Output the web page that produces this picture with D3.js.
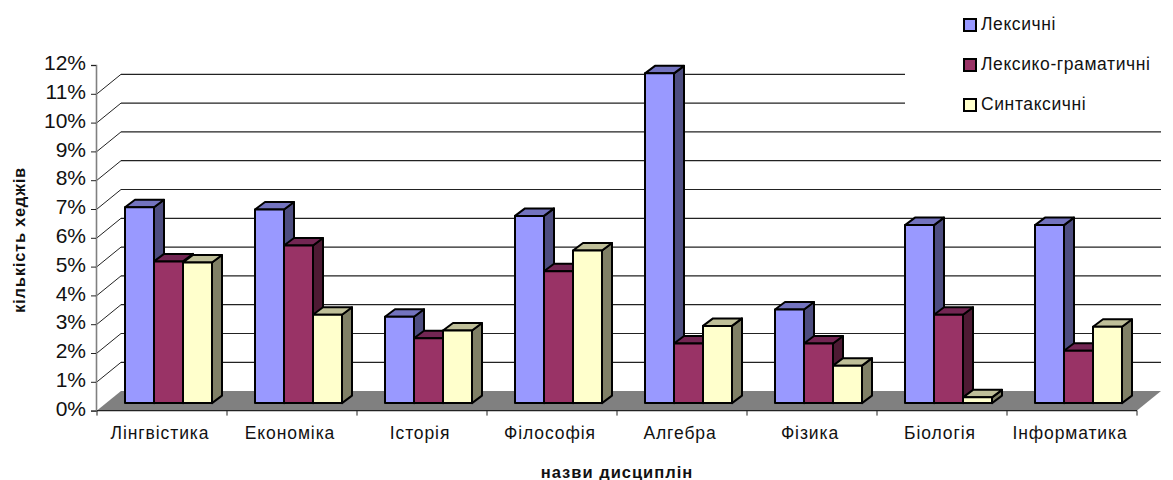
<!DOCTYPE html>
<html lang="uk">
<head>
<meta charset="utf-8">
<script src="https://cdn.jsdelivr.net/npm/d3@7"></script>
<style>
  html, body { margin: 0; padding: 0; background: #fff; }
  svg { display: block; }
  text { font-family: "Liberation Sans", Arial, sans-serif; fill: #111; }
</style>
</head>
<body>
<svg id="chart" width="1173" height="480"></svg>
<script>
// Shares of hedges by discipline, in percent
const categories = ["Лінгвістика", "Економіка", "Історія", "Філософія", "Алгебра", "Фізика", "Біологія", "Інформатика"];
const seriesNames = ["Лексичні", "Лексико-граматичні", "Синтаксичні"];
const lexical = [6.8, 6.72, 3.0, 6.5, 11.45, 3.25, 6.18, 6.18];
const lexGrammatical = [4.92, 5.47, 2.25, 4.58, 2.07, 2.07, 3.07, 1.82];
const syntactic = [4.88, 3.07, 2.52, 5.3, 2.68, 1.3, 0.2, 2.65];
const yTicks = [0, 1, 2, 3, 4, 5, 6, 7, 8, 9, 10, 11, 12];

const faceColors = ["#9999FF", "#993366", "#FFFFCC"];
const sideColors = ["#4D4D80", "#4D1A33", "#808066"];
const topColors = ["#7373BF", "#732653", "#BFBF99"];

const svg = d3.select("#chart");

// Oblique projection of the chart box
const depthX = 24, depthY = -19.5;     // wall behind the front plane
const barDepthX = 10, barDepthY = -7.5; // extrusion of each column
const barShiftY = -7.5;                 // columns stand inside the floor

const x = d3.scaleBand().domain(categories).range([97, 1137]);
const y = d3.scaleLinear().domain([0, 12]).range([410.6, 65]);
const inner = d3.scaleBand().domain(d3.range(seriesNames.length)).range([28, 115]);

const values = [lexical, lexGrammatical, syntactic];

// Floor
const floor = d3.line();
svg.append("path")
  .attr("d", floor([
    [x.range()[0], y(0)],
    [x.range()[1], y(0)],
    [x.range()[1] + depthX, y(0) + depthY],
    [x.range()[0] + depthX, y(0) + depthY]
  ]) + "Z")
  .attr("fill", "#808080");

// Back-wall gridlines with their slanted side-wall segments
const gridTicks = yTicks.filter(t => t > 0 && t < 12);
const grid = svg.append("g").attr("stroke", "#222").attr("fill", "none");
grid.selectAll("line.back").data(gridTicks).join("line")
  .attr("class", "back")
  .attr("x1", x.range()[0] + depthX)
  .attr("x2", x.range()[1] + depthX)
  .attr("y1", d => y(d) + depthY)
  .attr("y2", d => y(d) + depthY)
  .attr("stroke-width", 1.2);
grid.selectAll("line.side").data(gridTicks).join("line")
  .attr("class", "side")
  .attr("x1", x.range()[0])
  .attr("x2", x.range()[0] + depthX)
  .attr("y1", d => y(d))
  .attr("y2", d => y(d) + depthY)
  .attr("stroke-width", 1);

// Columns: side, top, then front, series by series so later ones overlap earlier sides
const bars = [];
categories.forEach((c, ci) => {
  values.forEach((vals, si) => bars.push({ c, si, v: vals[ci] }));
});
const barLayer = svg.append("g")
  .attr("stroke", "#000")
  .attr("stroke-width", 2)
  .attr("stroke-linejoin", "round");
const poly = d3.line();
bars.forEach(b => {
  const x0 = x(b.c) + inner(b.si);
  const x1 = x0 + inner.bandwidth();
  const yTop = y(b.v) + barShiftY;
  const yBase = y(0) + barShiftY;
  barLayer.append("path")
    .attr("fill", sideColors[b.si])
    .attr("d", poly([[x1, yBase], [x1, yTop], [x1 + barDepthX, yTop + barDepthY], [x1 + barDepthX, yBase + barDepthY]]) + "Z");
  barLayer.append("path")
    .attr("fill", topColors[b.si])
    .attr("d", poly([[x0, yTop], [x0 + barDepthX, yTop + barDepthY], [x1 + barDepthX, yTop + barDepthY], [x1, yTop]]) + "Z");
  barLayer.append("rect")
    .attr("fill", faceColors[b.si])
    .attr("x", x0).attr("y", yTop)
    .attr("width", inner.bandwidth()).attr("height", yBase - yTop);
});

// Value axis
const yAxis = svg.append("g")
  .attr("transform", `translate(${x.range()[0] - 1},0)`)
  .call(d3.axisLeft(y).tickValues(yTicks).tickFormat(d => d + "%").tickSize(5).tickPadding(5));
yAxis.select(".domain").attr("stroke", "#808080").attr("stroke-width", 1.6);
yAxis.selectAll(".tick line").attr("stroke", "#222");
yAxis.selectAll(".tick text")
  .attr("font-size", 21)
  .attr("font-family", "Liberation Sans")
  .attr("dy", "0.22em")
  .attr("fill", "#111");

// Category axis: ticks sit on band edges, labels at band centres
const xAxisLine = svg.append("g").attr("transform", `translate(0,${y(0)})`);
xAxisLine.append("line")
  .attr("x1", x.range()[0]).attr("x2", x.range()[1])
  .attr("stroke", "#222").attr("stroke-width", 1.2);
xAxisLine.selectAll("line.tick").data(categories.concat([null])).join("line")
  .attr("class", "tick")
  .attr("x1", (d, i) => x.range()[0] + i * x.step())
  .attr("x2", (d, i) => x.range()[0] + i * x.step())
  .attr("y1", 0).attr("y2", 5)
  .attr("stroke", "#222");
svg.append("g").selectAll("text").data(categories).join("text")
  .attr("x", d => x(d) + x.bandwidth() / 2 - 2)
  .attr("y", 439)
  .attr("text-anchor", "middle")
  .attr("font-size", 17.5)
  .attr("letter-spacing", 0.9)
  .text(d => d);

// Axis titles
svg.append("text")
  .attr("x", 617).attr("y", 478)
  .attr("text-anchor", "middle")
  .attr("font-size", 16.5).attr("font-weight", "bold")
  .attr("letter-spacing", 1)
  .text("назви дисциплін");
svg.append("text")
  .attr("transform", "translate(25,240) rotate(-90)")
  .attr("text-anchor", "middle")
  .attr("font-size", 16.5).attr("font-weight", "bold")
  .attr("letter-spacing", 0.8)
  .text("кількість хеджів");

// Legend on a white panel that masks the top of the gridlines
const legendY = d3.scalePoint().domain(seriesNames).range([25, 105]);
svg.append("rect")
  .attr("x", 905).attr("y", 0)
  .attr("width", 268).attr("height", 120)
  .attr("fill", "#fff");
const legend = svg.append("g").selectAll("g").data(seriesNames).join("g")
  .attr("transform", d => `translate(964,${legendY(d)})`);
legend.append("rect")
  .attr("x", 0).attr("y", -6)
  .attr("width", 12).attr("height", 12)
  .attr("fill", (d, i) => faceColors[i])
  .attr("stroke", "#000").attr("stroke-width", 2);
legend.append("text")
  .attr("x", 17).attr("y", 5)
  .attr("font-size", 17.5)
  .attr("letter-spacing", 0.6)
  .text(d => d);
</script>
</body>
</html>
